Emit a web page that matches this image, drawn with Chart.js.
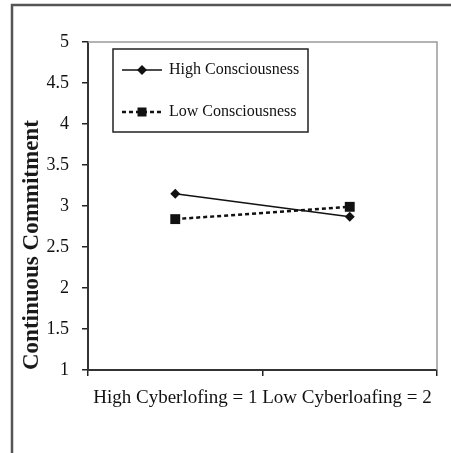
<!DOCTYPE html>
<html>
<head>
<meta charset="utf-8">
<script src="https://cdn.jsdelivr.net/npm/chart.js@4.4.1/dist/chart.umd.min.js"></script>
<style>
  html, body { margin: 0; padding: 0; background: #fff; }
</style>
</head>
<body>
<canvas id="chart" width="451" height="453"></canvas>
<script>
// values
const categories = ['1', '2'];
const highValues = [3.15, 2.87];
const lowValues = [2.84, 2.99];
const seriesNames = ['High Consciousness', 'Low Consciousness'];
const yTicks = [1, 1.5, 2, 2.5, 3, 3.5, 4, 4.5, 5];
const yTitle = 'Continuous Commitment';
const xTitle = 'High Cyberlofing = 1 Low Cyberloafing = 2';

const SERIF = "'Liberation Serif', 'Times New Roman', serif";

// outer figure frame + the grey top/right edges of the plot box
const framePlugin = {
  id: 'frame',
  beforeDatasetsDraw(chart) {
    const {ctx, chartArea: a} = chart;
    ctx.save();
    ctx.strokeStyle = '#555';
    ctx.lineWidth = 2.5;
    ctx.beginPath();
    ctx.moveTo(12, chart.height);
    ctx.lineTo(12, 5);
    ctx.lineTo(chart.width, 5);
    ctx.stroke();

    ctx.strokeStyle = '#9a9a9a';
    ctx.lineWidth = 1.5;
    ctx.beginPath();
    ctx.moveTo(a.left, a.top);
    ctx.lineTo(a.right, a.top);
    ctx.lineTo(a.right, a.bottom);
    ctx.stroke();
    ctx.restore();
  }
};

function marker(ctx, style, x, y, r) {
  ctx.beginPath();
  if (style === 'rectRot') {
    ctx.moveTo(x - r, y);
    ctx.lineTo(x, y - r);
    ctx.lineTo(x + r, y);
    ctx.lineTo(x, y + r);
    ctx.closePath();
  } else {
    ctx.rect(x - r, y - r, 2 * r, 2 * r);
  }
  ctx.fill();
}

// boxed legend inside the plot, Excel style
const boxLegend = {
  id: 'boxLegend',
  afterDraw(chart) {
    const {ctx, chartArea: a} = chart;
    const left = a.left + 25, top = a.top + 7, w = 195, h = 83;
    ctx.save();
    ctx.strokeStyle = '#222';
    ctx.lineWidth = 1.5;
    ctx.strokeRect(left, top, w, h);
    chart.data.datasets.forEach((ds, i) => {
      const y = top + 21 + i * 42;
      ctx.strokeStyle = ds.borderColor;
      ctx.lineWidth = ds.borderWidth;
      ctx.setLineDash(ds.borderDash || []);
      ctx.beginPath();
      ctx.moveTo(left + 9, y);
      ctx.lineTo(left + 49, y);
      ctx.stroke();
      ctx.setLineDash([]);
      ctx.fillStyle = ds.pointBackgroundColor;
      marker(ctx, ds.pointStyle, left + 29, y, ds.pointStyle === 'rectRot' ? 5 : 4.5);
      ctx.fillStyle = '#111';
      ctx.font = '16px ' + SERIF;
      ctx.textBaseline = 'middle';
      ctx.fillText(ds.label, left + 56, y);
    });
    ctx.restore();
  }
};

new Chart(document.getElementById('chart'), {
  type: 'line',
  data: {
    labels: categories,
    datasets: [
      {
        label: seriesNames[0],
        data: highValues,
        borderColor: '#111',
        borderWidth: 1.5,
        pointStyle: 'rectRot',
        pointRadius: 5,
        pointBackgroundColor: '#111',
        pointBorderColor: '#111',
        pointBorderWidth: 0,
        tension: 0
      },
      {
        label: seriesNames[1],
        data: lowValues,
        borderColor: '#111',
        borderWidth: 2.5,
        borderDash: [4, 3],
        pointStyle: 'rect',
        pointRadius: 7,
        pointBackgroundColor: '#111',
        pointBorderColor: '#111',
        pointBorderWidth: 0,
        tension: 0
      }
    ]
  },
  options: {
    responsive: false,
    animation: false,
    layout: { padding: { left: 14, top: 42, right: 14, bottom: 33 } },
    plugins: {
      legend: { display: false },
      tooltip: { enabled: false }
    },
    scales: {
      x: {
        type: 'category',
        offset: true,
        grid: { offset: true, drawOnChartArea: false, tickLength: 6, color: '#222', lineWidth: 1.5 },
        border: { color: '#333', width: 2 },
        ticks: { display: false },
        title: {
          display: true,
          text: xTitle,
          color: '#111',
          font: { family: SERIF, size: 19 },
          padding: { top: 0, bottom: 11 }
        },
        afterFit(s) { s.height = 50; }
      },
      y: {
        min: 1,
        max: 5,
        afterBuildTicks(s) { s.ticks = yTicks.map(v => ({ value: v })); },
        ticks: {
          padding: 13,
          color: '#111',
          font: { family: SERIF, size: 18 },
          callback: v => String(v)
        },
        grid: { drawOnChartArea: false, tickLength: 6, color: '#222', lineWidth: 1.5 },
        border: { color: '#333', width: 2 },
        title: {
          display: true,
          text: yTitle,
          align: 'start',
          color: '#1a1a1a',
          font: { family: SERIF, size: 23, weight: 'bold' },
          padding: { top: 4, bottom: 0 }
        },
        afterFit(s) { s.width = 74; }
      }
    }
  },
  plugins: [framePlugin, boxLegend]
});
</script>
</body>
</html>
